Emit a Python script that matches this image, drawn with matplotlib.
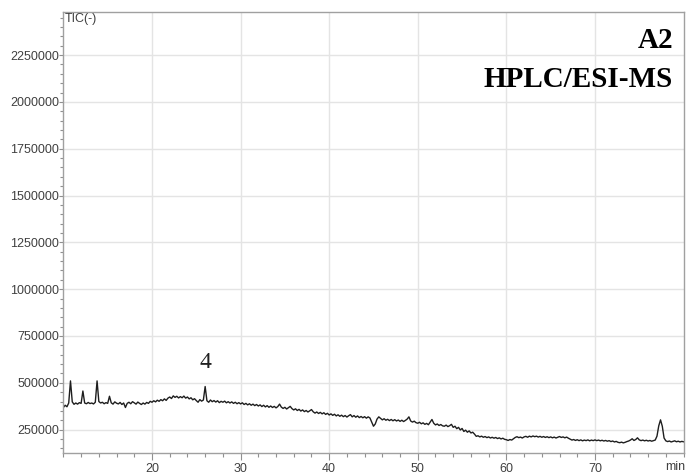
import numpy as np
import matplotlib
matplotlib.use("Agg")
import matplotlib.pyplot as plt
from matplotlib.ticker import MultipleLocator

# Total ion current trace, sampled every 0.2 min from 10.0 min (intensity in thousands)
RUN_START = 10.0
SAMPLE_STEP = 0.2

tic_10_20 = [368, 380, 372, 392, 510, 398, 385, 392, 386, 394,
             390, 456, 392, 388, 395, 389, 392, 387, 396, 510,
             400, 392, 396, 388, 394, 390, 428, 393, 386, 398,
             391, 387, 395, 384, 392, 368, 390, 396, 388, 399,
             393, 386, 397, 390, 384, 392, 386, 395, 390, 401]
tic_20_30 = [396, 404, 398, 407, 401, 410, 404, 414, 406, 418,
             424, 416, 430, 422, 428, 419, 426, 420, 429, 418,
             424, 414, 420, 409, 415, 405, 396, 410, 402, 408,
             480, 404, 396, 408, 399, 405, 397, 404, 394, 401,
             396, 402, 393, 399, 392, 398, 390, 396, 388, 394]
tic_30_40 = [387, 393, 384, 390, 382, 388, 380, 386, 378, 384,
             376, 382, 373, 380, 371, 378, 369, 376, 368, 374,
             366, 373, 386, 370, 363, 369, 360, 367, 374, 362,
             355, 361, 352, 358, 349, 355, 346, 352, 344, 350,
             357, 345, 338, 344, 336, 342, 334, 340, 331, 337]
tic_40_50 = [328, 334, 326, 332, 323, 329, 321, 327, 319, 325,
             317, 324, 330, 318, 325, 316, 323, 314, 320, 313,
             319, 311, 318, 312, 290, 268, 280, 306, 318, 310,
             302, 308, 300, 305, 298, 304, 297, 303, 296, 301,
             294, 300, 293, 299, 306, 318, 296, 290, 295, 287]
tic_50_60 = [284, 289, 281, 286, 278, 283, 276, 290, 304, 284,
             275, 280, 272, 277, 270, 268, 274, 266, 271, 278,
             262, 268, 255, 262, 248, 256, 240, 247, 236, 243,
             232, 236, 226, 214, 217, 211, 215, 209, 213, 207,
             211, 205, 209, 204, 208, 202, 206, 200, 204, 198]
tic_60_70 = [196, 192, 197, 194, 201, 208, 212, 207, 210, 205,
             211, 214, 209, 215, 211, 216, 212, 215, 210, 214,
             209, 213, 208, 212, 207, 211, 206, 210, 205, 209,
             213, 208, 211, 206, 210, 204, 199, 194, 197, 192,
             196, 191, 195, 190, 194, 191, 195, 190, 194, 191]
tic_70_80 = [195, 191, 194, 190, 193, 189, 192, 188, 191, 186,
             189, 184, 187, 182, 180, 183, 179, 182, 186, 189,
             194, 201, 192, 197, 206, 195, 191, 194, 190, 193,
             189, 192, 188, 191, 194, 215, 270, 302, 268, 205,
             190, 186, 189, 184, 187, 190, 185, 188, 184, 187,
             185]

tic = np.array(tic_10_20 + tic_20_30 + tic_30_40 + tic_40_50 +
               tic_50_60 + tic_60_70 + tic_70_80, dtype=float) * 1000.0
time_min = RUN_START + SAMPLE_STEP * np.arange(len(tic))

x_ticks = [20, 30, 40, 50, 60, 70]
y_ticks = [250000, 500000, 750000, 1000000, 1250000, 1500000, 1750000, 2000000, 2250000]

peak_label = "4"
peak_label_time = 26.0
peak_label_level = 581000

sans = ["Liberation Sans", "DejaVu Sans"]
serif = ["Liberation Serif", "DejaVu Serif"]

W, H = 687, 476
fig = plt.figure(figsize=(W / 100, H / 100), dpi=100)
left, right, top, bottom = 63.4, 684.0, 12.0, 453.0
ax = fig.add_axes([left / W, (H - bottom) / H, (right - left) / W, (bottom - top) / H])

ax.plot(time_min, tic, color="#1e1e1e", lw=1.0)

ax.set_xlim(10, 80.05)
ax.set_ylim(125000, 2480000)

ax.set_xticks(x_ticks)
ax.set_xticklabels([str(v) for v in x_ticks])
ax.xaxis.set_minor_locator(MultipleLocator(2))
ax.set_yticks(y_ticks)
ax.set_yticklabels([str(v) for v in y_ticks])
ax.yaxis.set_minor_locator(MultipleLocator(50000))

ax.grid(True, which="major", color="#e4e4e4", lw=1.0)
ax.set_axisbelow(True)

for s in ax.spines.values():
    s.set_color("#a0a0a0")
    s.set_linewidth(1.0)

ax.tick_params(axis="x", which="major", length=5, width=0.8, color="#909090",
               labelsize=9, labelcolor="#404040", pad=2)
ax.tick_params(axis="x", which="minor", length=3, width=0.8, color="#909090")
ax.tick_params(axis="y", which="major", length=3, width=0.8, color="#909090",
               labelsize=9, labelcolor="#404040", pad=0)
ax.tick_params(axis="y", which="minor", length=2, width=0.8, color="#909090")
for lab in ax.get_xticklabels() + ax.get_yticklabels():
    lab.set_family(sans)

ax.text(0.002, 0.997, "TIC(-)", transform=ax.transAxes, ha="left", va="top",
        fontsize=9, color="#404040", family=sans)
fig.text(675 / W, (H - 467) / H, "min", ha="center", va="center",
         fontsize=9, color="#404040", family=sans)

fig.text(673 / W, (H - 48) / H, "A2", ha="right", va="baseline",
         fontsize=21, fontweight="bold", family=serif, color="black")
fig.text(673 / W, (H - 87) / H, "HPLC/ESI-MS", ha="right", va="baseline",
         fontsize=21, fontweight="bold", family=serif, color="black")

ax.text(peak_label_time, peak_label_level, peak_label, ha="center", va="baseline",
        fontsize=17, family=serif, color="#202020")

fig.savefig("out.png", dpi=100)
